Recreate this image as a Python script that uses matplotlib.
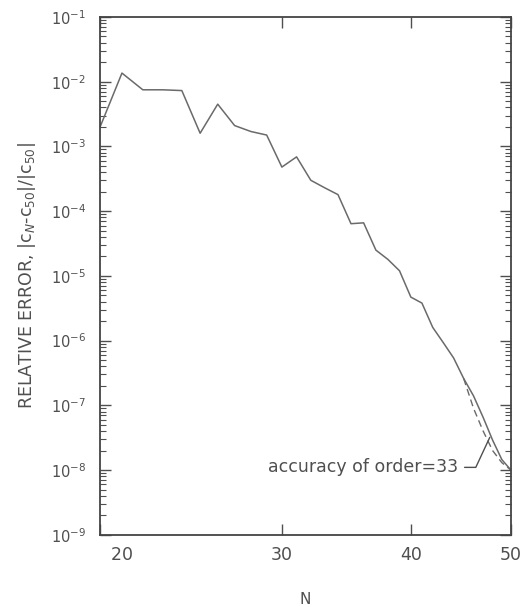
import matplotlib
matplotlib.use("Agg")
import matplotlib.pyplot as plt
import matplotlib.ticker as mticker
import numpy as np

# relative error of Chebyshev coefficients vs N
n_vals = np.arange(20, 51)
rel_err = [2.0e-3, 1.36e-2, 7.5e-3, 7.5e-3, 7.3e-3, 1.6e-3, 4.5e-3, 2.1e-3,
           1.7e-3, 1.5e-3, 4.8e-4, 6.9e-4, 3.0e-4, 2.3e-4, 1.8e-4, 6.4e-5,
           6.6e-5, 2.5e-5, 1.8e-5, 1.2e-5, 4.7e-6, 3.8e-6, 1.6e-6, 9.3e-7,
           5.4e-7, 2.6e-7, 1.4e-7, 6.5e-8, 2.9e-8, 1.45e-8, 1.0e-8]

# dashed estimate, "accuracy of order=33"
n_dash = [45, 46, 47, 48, 49, 50]
err_dash = [2.6e-7, 9.0e-8, 4.0e-8, 2.0e-8, 1.3e-8, 1.0e-8]

x_ticks = [20, 30, 40, 50]
# the "20" sits a little right of the corner in the original
x_tick_labels = ["  20", "30", "40", "50"]
y_exponents = list(range(-9, 0))

ink = "#4f4f4f"
line_col = "#6a6a6a"

fig = plt.figure(figsize=(5.24, 6.07), dpi=100)
ax = fig.add_axes([0.191, 0.119, 0.784, 0.853])

ax.plot(n_vals, rel_err, "-", color=line_col, lw=1.1)
ax.plot(n_dash, err_dash, "--", color=line_col, lw=1.0, dashes=(5, 3))

ax.set_xscale("log")
ax.set_yscale("log")
ax.set_xlim(20, 50)
ax.set_ylim(1e-9, 1e-1)

ax.xaxis.set_major_locator(mticker.FixedLocator(x_ticks))
ax.xaxis.set_major_formatter(mticker.FixedFormatter(x_tick_labels))
ax.xaxis.set_minor_locator(mticker.NullLocator())

y_major = [10.0 ** e for e in y_exponents]
y_minor = [m * 10.0 ** e for e in y_exponents[:-1] for m in range(2, 10)]
ax.yaxis.set_major_locator(mticker.FixedLocator(y_major))
ax.yaxis.set_major_formatter(mticker.LogFormatterSciNotation())
ax.yaxis.set_minor_locator(mticker.FixedLocator(y_minor))
ax.yaxis.set_minor_formatter(mticker.NullFormatter())

ax.tick_params(which="both", direction="in", top=True, right=True, colors=ink)
ax.tick_params(axis="y", which="major", length=8, width=1.0, labelsize=10.5, pad=10)
ax.tick_params(axis="y", which="minor", length=4, width=0.8)
ax.tick_params(axis="x", which="major", length=8, width=1.0, labelsize=12.5, pad=8)

for sp in ax.spines.values():
    sp.set_color("#444444")
    sp.set_linewidth(1.3)

ax.get_xticklabels()[0].set_horizontalalignment("left")

ax.set_xlabel("N", fontsize=11, color=ink, labelpad=20)
ax.set_ylabel(r"RELATIVE ERROR, |c$_N$-c$_{50}$|/|c$_{50}$|",
              fontsize=12.5, color=ink, labelpad=9)

ax.annotate("accuracy of order=33", xy=(47.7, 3.2e-8), xytext=(44.4, 1.1e-8),
            fontsize=12.5, color=ink, ha="right", va="center",
            arrowprops=dict(arrowstyle="-", color=ink, lw=1.0,
                            shrinkA=3, shrinkB=0,
                            connectionstyle="angle,angleA=0,angleB=65,rad=0"))

fig.savefig("out.png", dpi=100)
